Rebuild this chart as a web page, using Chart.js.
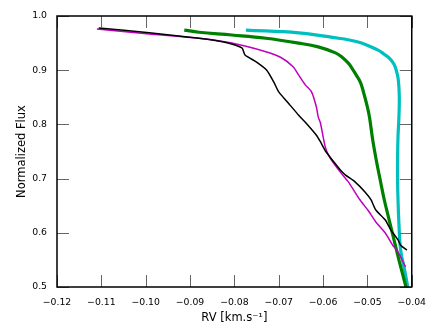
<!DOCTYPE html>
<html>
<head>
<meta charset="utf-8">
<script src="https://cdn.jsdelivr.net/npm/chart.js@4"></script>
<style>
  html, body { margin: 0; padding: 0; background: #fff; }
  #wrap { width: 436px; height: 327px; }
</style>
</head>
<body>
<div id="wrap"><canvas id="bisChart" width="436" height="327"></canvas></div>
<script>
// bisector points: [RV, normalized flux]
const blackPts = [
    [-0.1106, 0.978], [-0.0992, 0.969], [-0.0880, 0.959], [-0.0824, 0.952], [-0.0783, 0.941],
    [-0.0776, 0.928], [-0.0750, 0.915], [-0.0727, 0.900], [-0.0711, 0.878], [-0.0700, 0.860],
    [-0.0678, 0.839], [-0.0655, 0.817], [-0.0640, 0.804], [-0.0615, 0.780], [-0.0606, 0.768],
    [-0.0593, 0.749], [-0.0561, 0.716], [-0.0550, 0.707], [-0.0528, 0.694], [-0.0505, 0.675],
    [-0.0492, 0.661], [-0.0481, 0.642], [-0.0460, 0.624], [-0.0447, 0.605], [-0.0431, 0.587],
    [-0.0425, 0.577], [-0.0411, 0.568]
];
const magentaPts = [
    [-0.1110, 0.976], [-0.0992, 0.967], [-0.0880, 0.959], [-0.0806, 0.950], [-0.0729, 0.934],
    [-0.0694, 0.923], [-0.0667, 0.906], [-0.0655, 0.891], [-0.0640, 0.873], [-0.0626, 0.860],
    [-0.0615, 0.832], [-0.0611, 0.814], [-0.0606, 0.803], [-0.0595, 0.758], [-0.0584, 0.738],
    [-0.0561, 0.712], [-0.0543, 0.694], [-0.0517, 0.661], [-0.0499, 0.642], [-0.0481, 0.620],
    [-0.0460, 0.600], [-0.0443, 0.577], [-0.0431, 0.565], [-0.0414, 0.537]
];
const greenPts = [
    [-0.0913, 0.974], [-0.0880, 0.970], [-0.0806, 0.965], [-0.0729, 0.959], [-0.0655, 0.950],
    [-0.0611, 0.943], [-0.0572, 0.932], [-0.0557, 0.924], [-0.0543, 0.913], [-0.0535, 0.904],
    [-0.0525, 0.891], [-0.0516, 0.878], [-0.0510, 0.863], [-0.0500, 0.832], [-0.0495, 0.812],
    [-0.0488, 0.771], [-0.0480, 0.734], [-0.0471, 0.697], [-0.0462, 0.661], [-0.0451, 0.624],
    [-0.0440, 0.587], [-0.0429, 0.550], [-0.0413, 0.500]
];
const cyanPts = [
    [-0.0774, 0.974], [-0.0655, 0.969], [-0.0582, 0.961], [-0.0521, 0.952], [-0.0476, 0.937],
    [-0.0463, 0.930], [-0.0449, 0.921], [-0.0440, 0.911], [-0.0435, 0.900], [-0.0431, 0.886],
    [-0.0429, 0.869], [-0.0428, 0.845], [-0.0429, 0.812], [-0.0431, 0.777], [-0.0432, 0.734],
    [-0.0432, 0.697], [-0.0431, 0.661], [-0.0429, 0.618], [-0.0425, 0.568], [-0.0416, 0.531],
    [-0.0409, 0.500]
];

const toXY = pts => pts.map(p => ({ x: p[0], y: p[1] }));
const fmt = (v, d) => (v < 0 ? '\u2212' : '') + Math.abs(v).toFixed(d);

// matplotlib style: frame on all sides, ticks pointing inwards
const insideTicks = {
    id: 'insideTicks',
    afterDatasetsDraw(chart) {
        const { ctx, chartArea: a, scales } = chart;
        const len = 12;
        ctx.save();
        ctx.strokeStyle = '#666';
        ctx.lineWidth = 1;
        ctx.beginPath();
        scales.x.ticks.forEach(t => {
            const px = Math.round(scales.x.getPixelForValue(t.value)) + 0.5;
            ctx.moveTo(px, a.bottom); ctx.lineTo(px, a.bottom - len);
            ctx.moveTo(px, a.top); ctx.lineTo(px, a.top + len);
        });
        scales.y.ticks.forEach(t => {
            const py = Math.round(scales.y.getPixelForValue(t.value)) + 0.5;
            ctx.moveTo(a.left, py); ctx.lineTo(a.left + len, py);
            ctx.moveTo(a.right, py); ctx.lineTo(a.right - len, py);
        });
        ctx.stroke();
        ctx.strokeStyle = '#000';
        ctx.lineWidth = 1.5;
        ctx.strokeRect(a.left, a.top, a.right - a.left, a.bottom - a.top);
        ctx.restore();
    }
};

const ctx = document.getElementById('bisChart').getContext('2d');
new Chart(ctx, {
    type: 'scatter',
    data: {
        datasets: [
            { data: toXY(blackPts), borderColor: '#000000', borderWidth: 1.5, tension: 0.2 },
            { data: toXY(magentaPts), borderColor: '#bf00bf', borderWidth: 1.5, tension: 0.2 },
            { data: toXY(greenPts), borderColor: '#008000', borderWidth: 3.2, tension: 0.4 },
            { data: toXY(cyanPts), borderColor: '#00bfbf', borderWidth: 3.2, tension: 0.4 }
        ].map(ds => Object.assign(ds, {
            showLine: true,
            pointRadius: 0,
            pointHoverRadius: 0,
            fill: false,
            clip: 2
        }))
    },
    options: {
        responsive: false,
        animation: false,
        layout: { padding: { left: 0, top: 16, right: 22, bottom: 0 } },
        scales: {
            x: {
                type: 'linear',
                min: -0.12,
                max: -0.04,
                afterFit: s => { s.height = 40; },
                ticks: {
                    stepSize: 0.01,
                    padding: 10,
                    color: '#000',
                    font: { family: 'DejaVu Sans', size: 9.3 },
                    maxRotation: 0,
                    callback: v => fmt(v, 2)
                },
                grid: { drawOnChartArea: false, drawTicks: false },
                border: { display: false },
                title: {
                    display: true,
                    text: 'RV [km.s\u207B\u00B9]',
                    color: '#000',
                    font: { family: 'DejaVu Sans', size: 11.5 },
                    padding: { top: 0, bottom: 2 }
                }
            },
            y: {
                type: 'linear',
                min: 0.5,
                max: 1.0,
                afterFit: s => { s.width = 57; },
                ticks: {
                    stepSize: 0.1,
                    padding: 10,
                    color: '#000',
                    font: { family: 'DejaVu Sans', size: 9.3 },
                    callback: v => fmt(v, 1)
                },
                grid: { drawOnChartArea: false, drawTicks: false },
                border: { display: false },
                title: {
                    display: true,
                    text: 'Normalized Flux',
                    color: '#000',
                    font: { family: 'DejaVu Sans', size: 11.5 },
                    padding: { top: 15, bottom: 0 }
                }
            }
        },
        plugins: {
            legend: { display: false },
            tooltip: { enabled: false }
        }
    },
    plugins: [insideTicks]
});
</script>
</body>
</html>
